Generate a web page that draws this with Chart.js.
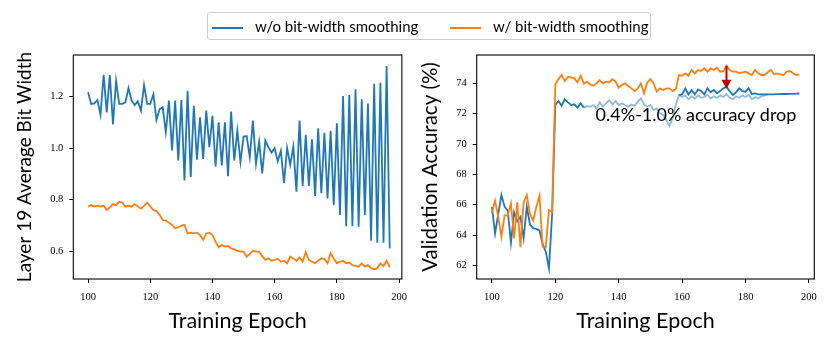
<!DOCTYPE html>
<html>
<head>
<meta charset="utf-8">
<script src="https://cdn.jsdelivr.net/npm/chart.js@4.4.1/dist/chart.umd.min.js"></script>
<style>
  body { margin: 0; background: #fff; }
  #wrap { position: relative; width: 830px; height: 345px; }
  .panel { position: absolute; top: 0; }
  #legend {
    position: absolute; left: 207px; top: 12px; width: 444px; height: 28px;
    border: 1px solid #cccccc; border-radius: 3px; box-sizing: border-box;
    font-family: Lato, sans-serif; font-size: 15px; color: #000;
  }
  .item { position: absolute; top: 0; line-height: 26px; white-space: nowrap; }
  .swatch { display: inline-block; width: 31px; height: 2px; vertical-align: middle; margin-right: 12px; }
</style>
</head>
<body>
<div id="wrap">
  <canvas id="left" class="panel" style="left:0" width="415" height="345"></canvas>
  <canvas id="right" class="panel" style="left:415px" width="415" height="345"></canvas>
  <div id="legend">
    <div class="item" style="left:4px"><span class="swatch" style="background:#1f77b4"></span>w/o bit-width smoothing</div>
    <div class="item" style="left:242px"><span class="swatch" style="background:#ff7f0e"></span>w/ bit-width smoothing</div>
  </div>
</div>
<script>
// ---- data ----
const epochs = [
  100, 101, 102, 103, 104, 105, 106, 107, 108, 109, 110, 111, 112, 113, 114, 115, 116, 117, 118, 119,
  120, 121, 122, 123, 124, 125, 126, 127, 128, 129, 130, 131, 132, 133, 134, 135, 136, 137, 138, 139,
  140, 141, 142, 143, 144, 145, 146, 147, 148, 149, 150, 151, 152, 153, 154, 155, 156, 157, 158, 159,
  160, 161, 162, 163, 164, 165, 166, 167, 168, 169, 170, 171, 172, 173, 174, 175, 176, 177, 178, 179,
  180, 181, 182, 183, 184, 185, 186, 187, 188, 189, 190, 191, 192, 193, 194, 195, 196, 197
];
const epochTicks = [100, 120, 140, 160, 180, 200];

// left: layer 19 average bit width
const bitNoSmooth = [
  1.217, 1.172, 1.174, 1.187, 1.130, 1.285, 1.139, 1.284, 1.092, 1.262,
  1.172, 1.172, 1.178, 1.234, 1.185, 1.168, 1.182, 1.146, 1.245, 1.172,
  1.172, 1.210, 1.110, 1.152, 1.159, 1.062, 1.185, 0.991, 1.185, 0.952,
  1.187, 0.875, 1.223, 0.888, 1.165, 0.955, 1.120, 0.958, 1.146, 1.004,
  1.126, 0.929, 1.101, 0.933, 1.101, 0.891, 1.142, 0.952, 1.068, 0.946,
  1.045, 1.047, 0.964, 1.107, 0.940, 1.025, 0.902, 1.030, 1.003, 0.983,
  1.000, 0.949, 0.990, 0.864, 1.001, 0.935, 1.006, 0.831, 1.107, 0.853,
  1.052, 0.853, 1.035, 0.815, 1.077, 0.825, 1.060, 0.805, 1.068, 0.779,
  1.097, 0.741, 1.203, 0.697, 1.207, 0.697, 1.229, 0.695, 1.190, 0.741,
  1.174, 0.641, 1.250, 0.633, 1.254, 0.633, 1.319, 0.611
];
const bitSmooth = [
  0.773, 0.779, 0.773, 0.777, 0.773, 0.777, 0.760, 0.770, 0.783, 0.779,
  0.792, 0.789, 0.773, 0.777, 0.773, 0.783, 0.773, 0.765, 0.776, 0.789,
  0.773, 0.760, 0.756, 0.741, 0.721, 0.719, 0.711, 0.702, 0.689, 0.693,
  0.699, 0.702, 0.669, 0.672, 0.669, 0.672, 0.663, 0.644, 0.669, 0.672,
  0.663, 0.637, 0.615, 0.624, 0.618, 0.620, 0.611, 0.607, 0.601, 0.598,
  0.598, 0.579, 0.589, 0.602, 0.598, 0.598, 0.581, 0.566, 0.572, 0.563,
  0.566, 0.570, 0.559, 0.563, 0.553, 0.579, 0.572, 0.563, 0.576, 0.559,
  0.596, 0.566, 0.559, 0.553, 0.563, 0.572, 0.570, 0.553, 0.592, 0.572,
  0.553, 0.559, 0.563, 0.553, 0.556, 0.546, 0.543, 0.540, 0.553, 0.540,
  0.546, 0.534, 0.530, 0.534, 0.553, 0.543, 0.563, 0.537
];
const bitTicks = [0.6, 0.8, 1.0, 1.2];

// right: validation accuracy (%)
const accNoSmooth = [
  65.85, 64.1, 65.4, 66.64, 65.87, 65.6, 63.5, 65.5, 64.9, 65.2,
  63.8, 65.87, 64.7, 64.45, 64.4, 64.3, 63.4, 62.9, 61.8, 65.4,
  72.57, 72.84, 72.53, 72.95, 72.75, 72.57, 72.62, 72.4, 72.68, 72.4,
  null, null, null, null, null, null, null, null, null, null,
  null, null, null, null, null, null, null, null, null, null,
  null, null, null, null, null, null, null, null, null, 73.23,
  73.27, 73.67, 73.27, 73.56, 73.27, 73.6, 73.5, 73.27, 73.67, 73.41,
  73.56, 73.34, 73.49, 73.67, 73.78, 73.49, 73.23, 73.41, 73.67, 73.49,
  73.45, 73.67, 73.3, 73.34, 73.27, 73.27, 73.27, 73.27, 73.28, 73.28,
  73.29, 73.29, 73.3, 73.3, 73.31, 73.31, 73.32, 73.33
];
const accNoSmoothFaded = [
  null, null, null, null, null, null, null, null, null, null,
  null, null, null, null, null, null, null, null, null, null,
  null, null, null, null, null, null, null, null, null, 72.4,
  72.5, 72.46, 72.57, 72.35, 72.75, 72.46, 72.68, 72.9, 72.62, 72.83,
  72.57, 72.68, 72.57, 72.46, 72.6, 72.52, 72.79, 73.01, 72.62, 72.46,
  72.57, 72.24, 72.35, 72.02, 71.91, 71.58, 71.2, 71.69, 72.57, 73.23,
  73.1, 73.2, 72.95, 73.15, 73.0, 73.2, 73.05, 73.1, 73.25, 73.0,
  73.15, 73.05, 73.2, 73.1, 73.3, 73.05, 72.95, 73.15, 73.05, 73.2,
  73.1, 73.25, 72.95, 73.1, 73.0, 73.15, 73.2, 73.27, null, null,
  null, null, null, null, null, null, null, null
];
const accSmooth = [
  65.47, 66.26, 65.2, 63.89, 65.3, 65.3, 66.09, 63.78, 66.15, 63.2,
  66.15, 66.64, 65.4, 64.96, 65.84, 66.6, 63.23, 63.2, 65.64, 65.53,
  73.93, 74.28, 74.55, 74.15, 74.44, 74.39, 74.33, 74.07, 74.5, 73.98,
  74.1, 73.93, 73.84, 74.0, 74.22, 74.0, 74.11, 74.06, 74.28, 74.11,
  73.71, 73.89, 74.0, 73.82, 73.67, 73.49, 73.67, 74.0, 73.34, 74.06,
  74.28, 74.0, 73.45, 73.67, 73.56, 73.67, 73.67, 73.49, 73.62, 74.55,
  74.5, 74.66, 74.5, 74.88, 74.66, 74.88, 74.81, 74.99, 74.77, 74.99,
  74.88, 75.03, 74.77, 74.81, 75.16, 74.88, 74.77, 74.77, 74.66, 74.73,
  74.77, 74.66, 74.55, 74.88, 74.66, 74.55, 74.55, 74.73, 74.88, 74.6,
  74.66, 74.6, 74.55, 74.77, 74.81, 74.66, 74.55, 74.6
];
const accTicks = [62, 64, 66, 68, 70, 72, 74];

const dropLabel = '0.4%-1.0% accuracy drop';
const dropEpoch = 174;            // where the red arrow sits
const dropTextAt = [132.7, 71.9]; // epoch, accuracy of the label start

// ---- styles ----
const BLUE = '#1f77b4';
const ORANGE = '#ff7f0e';
const FADED = 'rgba(31, 119, 180, 0.5)';
const tickFont = { family: 'Liberation Serif', size: 10.5 };

const pts = arr => epochs.map((e, i) => ({ x: e, y: arr[i] }));

// box around the plot area, like matplotlib spines
const frame = {
  id: 'frame',
  afterDraw(chart) {
    const { ctx, chartArea: a } = chart;
    ctx.save();
    ctx.strokeStyle = '#000';
    ctx.lineWidth = 1.1;
    ctx.strokeRect(a.left, a.top, a.right - a.left, a.bottom - a.top);
    ctx.restore();
  }
};

function line(data, color, order) {
  return { data: pts(data), borderColor: color, borderWidth: 1.8, pointRadius: 0, tension: 0, spanGaps: false, order };
}

function axes(xmin, xmax, ymin, ymax, yTicks, yFmt, yWidth, yTitle, yTitleSize, yTitlePad) {
  return {
    x: {
      type: 'linear', min: xmin, max: xmax,
      afterBuildTicks: s => { s.ticks = epochTicks.map(v => ({ value: v })); },
      afterFit: s => { s.height = 66; },
      ticks: { font: tickFont, color: '#000', padding: 8, maxRotation: 0 },
      grid: { drawOnChartArea: false, tickLength: 4, tickColor: '#000', tickWidth: 1 },
      border: { display: false },
      title: { display: true, text: 'Training Epoch', font: { family: 'Lato', size: 21.5 }, color: '#000', padding: { top: 0, bottom: 11 } }
    },
    y: {
      type: 'linear', min: ymin, max: ymax,
      afterBuildTicks: s => { s.ticks = yTicks.map(v => ({ value: v })); },
      afterFit: s => { s.width = yWidth; },
      ticks: { font: tickFont, color: '#000', padding: 6, callback: yFmt },
      grid: { drawOnChartArea: false, tickLength: 4, tickColor: '#000', tickWidth: 1 },
      border: { display: false },
      title: { display: true, text: yTitle, font: { family: 'Lato', size: yTitleSize }, color: '#000', padding: { top: yTitlePad, bottom: 0 } }
    }
  };
}

const common = {
  responsive: false,
  animation: false,
  plugins: { legend: { display: false }, tooltip: { enabled: false } }
};

new Chart(document.getElementById('left'), {
  type: 'line',
  data: { datasets: [line(bitSmooth, ORANGE, 0), line(bitNoSmooth, BLUE, 1)] },
  options: {
    ...common,
    layout: { padding: { top: 55, right: 8.5, left: 0, bottom: 0 } },
    scales: axes(95.25, 200.9, 0.492, 1.362, bitTicks, v => v.toFixed(1), 73.3, 'Layer 19 Average Bit Width', 19, 13.5)
  },
  plugins: [frame]
});

// red arrow + text on the accuracy panel
const dropNote = {
  id: 'dropNote',
  afterDatasetsDraw(chart) {
    const { ctx, scales: { x, y } } = chart;
    const i = epochs.indexOf(dropEpoch);
    const px = x.getPixelForValue(dropEpoch);
    const y0 = y.getPixelForValue(accSmooth[i]);
    const y1 = y.getPixelForValue(accNoSmooth[i]) + 2;
    ctx.save();
    ctx.strokeStyle = '#c00000';
    ctx.fillStyle = '#c00000';
    ctx.lineWidth = 2;
    ctx.beginPath();
    ctx.moveTo(px, y0);
    ctx.lineTo(px, y1 - 8);
    ctx.stroke();
    ctx.beginPath();
    ctx.moveTo(px - 5, y1 - 9);
    ctx.lineTo(px + 5, y1 - 9);
    ctx.lineTo(px, y1);
    ctx.closePath();
    ctx.fill();
    ctx.fillStyle = '#000';
    ctx.font = '18px Lato';
    ctx.textAlign = 'left';
    ctx.textBaseline = 'middle';
    ctx.fillText(dropLabel, x.getPixelForValue(dropTextAt[0]), y.getPixelForValue(dropTextAt[1]));
    ctx.restore();
  }
};

new Chart(document.getElementById('right'), {
  type: 'line',
  data: {
    datasets: [
      line(accSmooth, ORANGE, 0),
      line(accNoSmooth, BLUE, 1),
      line(accNoSmoothFaded, FADED, 2)
    ]
  },
  options: {
    ...common,
    layout: { padding: { top: 55, right: 15.7, left: 0, bottom: 0 } },
    scales: axes(95.2, 201.7, 61.1, 75.87, accTicks, v => String(v), 61.7, 'Validation Accuracy (%)', 20.5, 3)
  },
  plugins: [frame, dropNote]
});
</script>
</body>
</html>
